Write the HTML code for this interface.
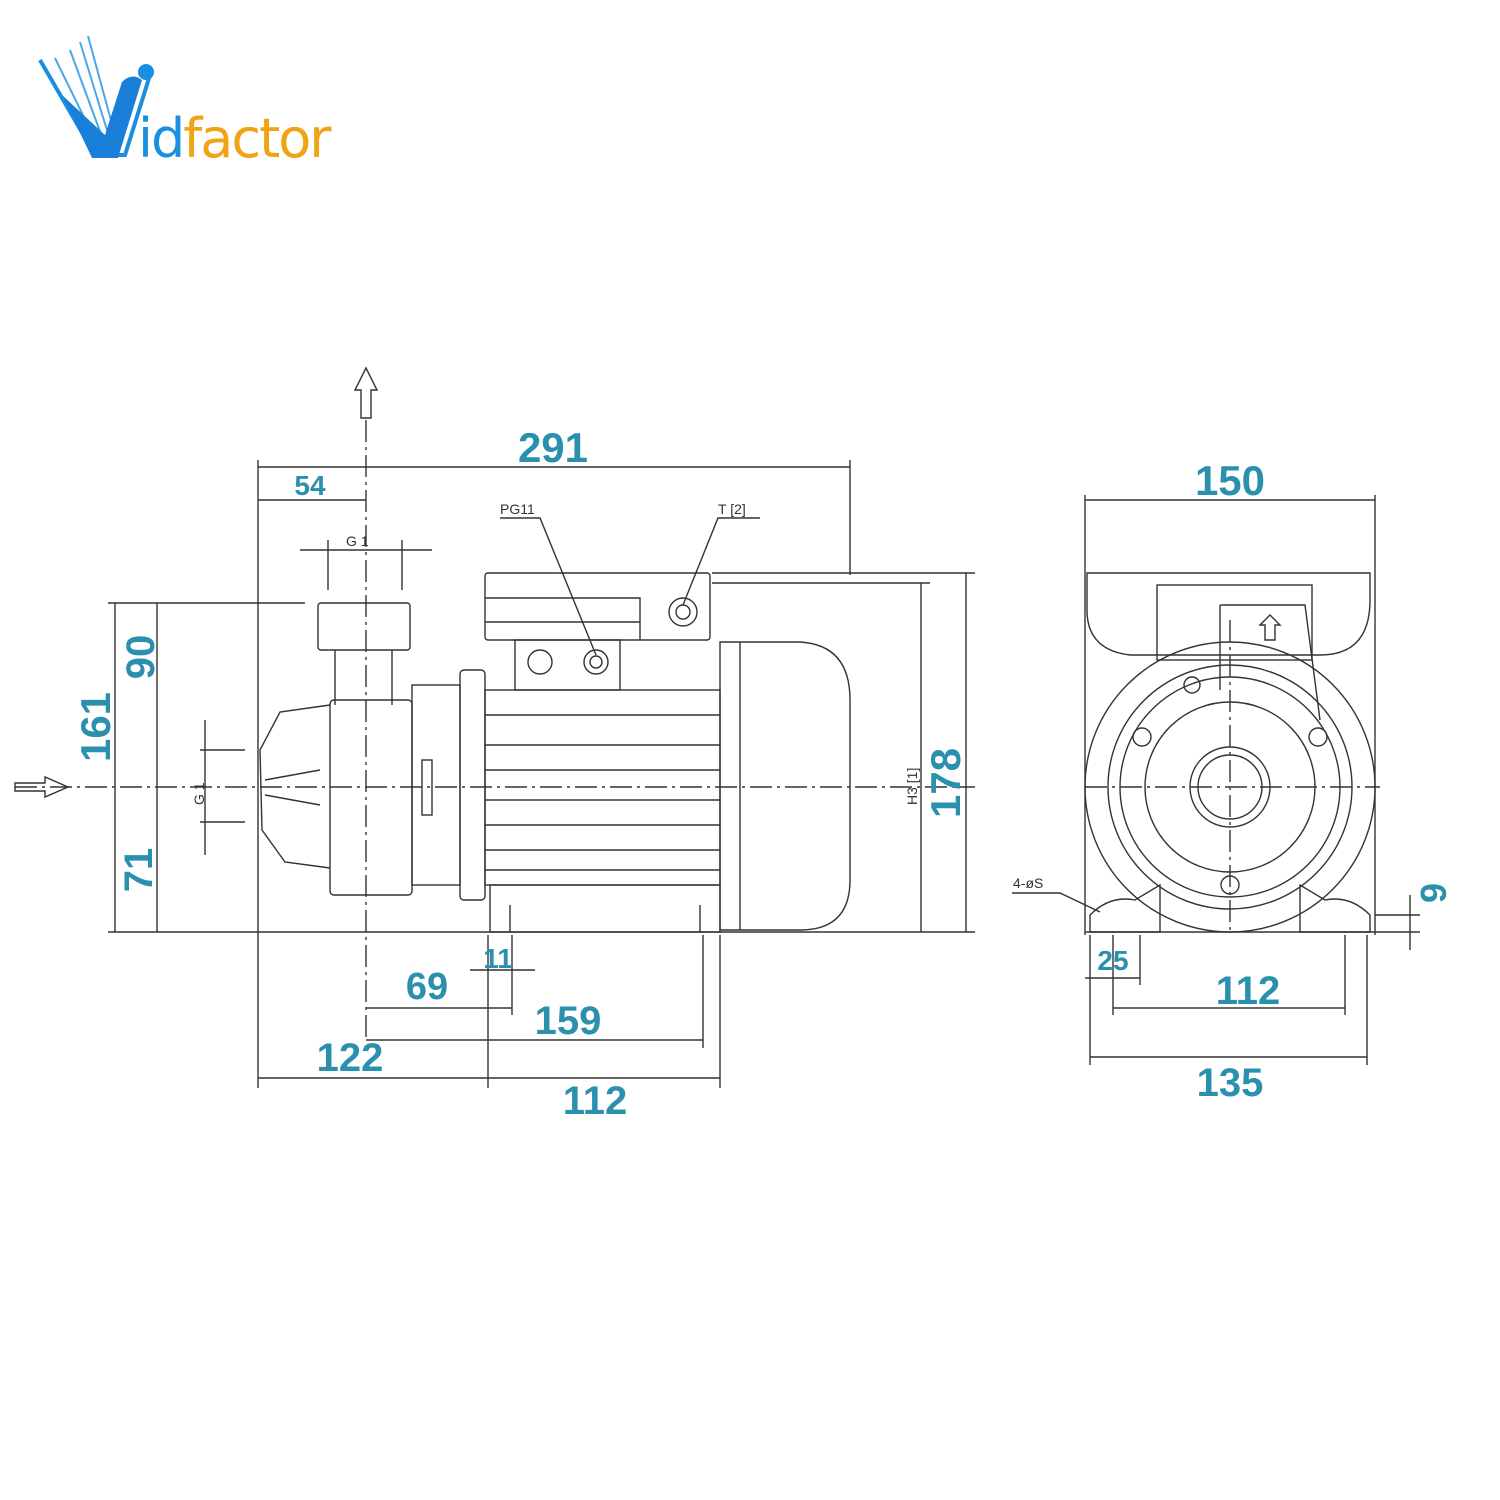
<!DOCTYPE html>
<html><head><meta charset="utf-8"><style>
html,body{margin:0;padding:0;background:#fff;}
svg{display:block}
.d{font-family:"Liberation Sans",sans-serif;font-weight:bold;fill:#2b8fae;}
.s{font-family:"Liberation Sans",sans-serif;fill:#333;font-size:14px;}
</style></head><body>
<svg width="1500" height="1500" viewBox="0 0 1500 1500" xmlns="http://www.w3.org/2000/svg">
<rect width="1500" height="1500" fill="#fff"/>
<!-- logo -->
<g>
 <path d="M40 60 L95 155 L125 155 L150 75" fill="none" stroke="#1a8fe0" stroke-width="4"/>
 <path d="M55 58 L100 150 M70 50 L105 145 M80 42 L110 140 M88 36 L115 135" stroke="#4aa8ea" stroke-width="2"/>
 <path d="M62 95 L92 158 L118 158 L142 80 Q132 72 122 82 L105 135 Z" fill="#1a7fd8"/>
 <circle cx="146" cy="72" r="8" fill="#1a8fe0"/>
 <text x="138" y="157" font-family="'DejaVu Sans',sans-serif" font-size="54" letter-spacing="-2"><tspan fill="#1a8fe0">id</tspan><tspan fill="#f1a316">factor</tspan></text>
</g>
<g stroke="#333" stroke-width="1.4" fill="none">
 <line x1="15" y1="787" x2="975" y2="787" stroke-dasharray="22 5 3 5"/>
 <line x1="366" y1="420" x2="366" y2="1040" stroke-dasharray="22 5 3 5"/>
 <line x1="1085" y1="787" x2="1380" y2="787" stroke-dasharray="22 5 3 5"/>
 <line x1="1230" y1="620" x2="1230" y2="935" stroke-dasharray="22 5 3 5"/>
 <path d="M361 418 V390 H355 L366 368 L377 390 H371 V418 Z"/>
 <path d="M15 783 H45 V777 L68 787 L45 797 V791 H15 Z"/>
 <line x1="258" y1="460" x2="258" y2="1088"/>
 <line x1="850" y1="460" x2="850" y2="575"/>
 <line x1="258" y1="467" x2="850" y2="467"/>
 <line x1="258" y1="500" x2="366" y2="500"/>
 <line x1="328" y1="540" x2="328" y2="590"/><line x1="402" y1="540" x2="402" y2="590"/>
 <line x1="300" y1="550" x2="432" y2="550"/>
 <line x1="108" y1="603" x2="305" y2="603"/>
 <line x1="108" y1="932" x2="975" y2="932"/>
 <line x1="115" y1="603" x2="115" y2="932"/>
 <line x1="157" y1="603" x2="157" y2="932"/>
 <line x1="205" y1="720" x2="205" y2="855"/>
 <line x1="200" y1="750" x2="245" y2="750"/><line x1="200" y1="822" x2="245" y2="822"/>
 <line x1="712" y1="573" x2="975" y2="573"/>
 <line x1="712" y1="583" x2="930" y2="583"/>
 <line x1="966" y1="573" x2="966" y2="932"/>
 <line x1="921" y1="583" x2="921" y2="932"/>
 <line x1="488" y1="935" x2="488" y2="1088"/>
 <line x1="512" y1="935" x2="512" y2="1015"/>
 <line x1="703" y1="935" x2="703" y2="1048"/>
 <line x1="720" y1="935" x2="720" y2="1088"/>
 <line x1="366" y1="1008" x2="512" y2="1008"/>
 <line x1="470" y1="970" x2="535" y2="970"/>
 <line x1="366" y1="1040" x2="703" y2="1040"/>
 <line x1="258" y1="1078" x2="720" y2="1078"/>
 <path d="M500 518 H540 L596 655"/>
 <path d="M760 518 H718 L683 605"/>
 <rect x="318" y="603" width="92" height="47" rx="3"/>
 <path d="M335 650 V705 M392 650 V705"/>
 <rect x="330" y="700" width="82" height="195" rx="4"/>
 <path d="M330 705 L280 712 L260 750 L262 830 L285 862 L330 868"/>
 <path d="M265 780 L320 770 M265 795 L320 805"/>
 <rect x="412" y="685" width="48" height="200"/>
 <rect x="460" y="670" width="25" height="230" rx="4"/>
 <rect x="485" y="690" width="235" height="195"/>
 <path d="M485 715 H720 M485 745 H720 M485 770 H720 M485 800 H720 M485 825 H720 M485 850 H720 M485 870 H720"/>
 <rect x="485" y="573" width="225" height="67" rx="3"/>
 <path d="M485 598 H640 V640 M485 622 H640"/>
 <rect x="515" y="640" width="105" height="50"/>
 <circle cx="540" cy="662" r="12"/><circle cx="596" cy="662" r="12"/><circle cx="596" cy="662" r="6"/>
 <circle cx="683" cy="612" r="14"/><circle cx="683" cy="612" r="7"/>
 <path d="M720 642 H800 Q850 645 850 700 V880 Q850 930 800 930 H720 Z"/>
 <path d="M740 642 V930"/>
 <rect x="490" y="885" width="230" height="47"/>
 <path d="M510 905 V932 M700 905 V932"/>
 <rect x="422" y="760" width="10" height="55"/>
 <line x1="1085" y1="495" x2="1085" y2="935"/>
 <line x1="1375" y1="495" x2="1375" y2="935"/>
 <line x1="1085" y1="500" x2="1375" y2="500"/>
 <path d="M1087 573 H1370 V600 Q1370 655 1320 655 H1130 Q1087 650 1087 610 Z"/>
 <rect x="1157" y="585" width="155" height="75"/>
 <path d="M1220 605 H1305 L1320 720 M1220 605 V690"/>
 <path d="M1260 625 L1270 615 L1280 625 H1275 V640 H1265 V625 Z"/>
 <circle cx="1230" cy="787" r="145"/>
 <circle cx="1230" cy="787" r="122"/>
 <circle cx="1230" cy="787" r="110"/>
 <circle cx="1230" cy="787" r="85"/>
 <circle cx="1230" cy="787" r="40"/>
 <circle cx="1230" cy="787" r="32"/>
 <circle cx="1142" cy="737" r="9"/><circle cx="1318" cy="737" r="9"/>
 <circle cx="1230" cy="885" r="9"/><circle cx="1192" cy="685" r="8"/>
 <path d="M1090 932 V915 Q1110 895 1135 900 L1160 885 V932 Z"/>
 <path d="M1370 932 V915 Q1350 895 1325 900 L1300 885 V932 Z"/>
 <line x1="1085" y1="932" x2="1420" y2="932"/>
 <line x1="1375" y1="915" x2="1420" y2="915"/>
 <line x1="1410" y1="895" x2="1410" y2="950"/>
 <path d="M1012 893 H1060 L1100 912"/>
 <line x1="1090" y1="935" x2="1090" y2="1065"/>
 <line x1="1140" y1="935" x2="1140" y2="985"/>
 <line x1="1113" y1="935" x2="1113" y2="1015"/>
 <line x1="1345" y1="935" x2="1345" y2="1015"/>
 <line x1="1367" y1="935" x2="1367" y2="1065"/>
 <line x1="1085" y1="978" x2="1140" y2="978"/>
 <line x1="1113" y1="1008" x2="1345" y2="1008"/>
 <line x1="1090" y1="1057" x2="1367" y2="1057"/>
</g>
<text class="s" x="500" y="514">PG11</text>
<text class="s" x="718" y="514">T [2]</text>
<text class="s" x="346" y="546">G 1</text>
<text class="s" x="1013" y="888">4-øS</text>
<text class="s" transform="translate(204,805) rotate(-90)">G 1</text>
<text class="s" transform="translate(917,805) rotate(-90)">H3 [1]</text>
<g class="d" text-anchor="middle">
 <text x="553" y="462" font-size="42">291</text>
 <text x="310" y="495" font-size="28">54</text>
 <text x="1230" y="495" font-size="42">150</text>
 <text x="427" y="999" font-size="38">69</text>
 <text x="498" y="968" font-size="28">11</text>
 <text x="568" y="1034" font-size="40">159</text>
 <text x="350" y="1071" font-size="40">122</text>
 <text x="595" y="1114" font-size="40">112</text>
 <text x="1113" y="970" font-size="28">25</text>
 <text x="1248" y="1004" font-size="40">112</text>
 <text x="1230" y="1096" font-size="40">135</text>
 <text transform="translate(154,657) rotate(-90)" font-size="40">90</text>
 <text transform="translate(110,727) rotate(-90)" font-size="42">161</text>
 <text transform="translate(152,870) rotate(-90)" font-size="40">71</text>
 <text transform="translate(960,783) rotate(-90)" font-size="42">178</text>
 <text transform="translate(1446,893) rotate(-90)" font-size="36">9</text>
</g>
</svg>
</body></html>
